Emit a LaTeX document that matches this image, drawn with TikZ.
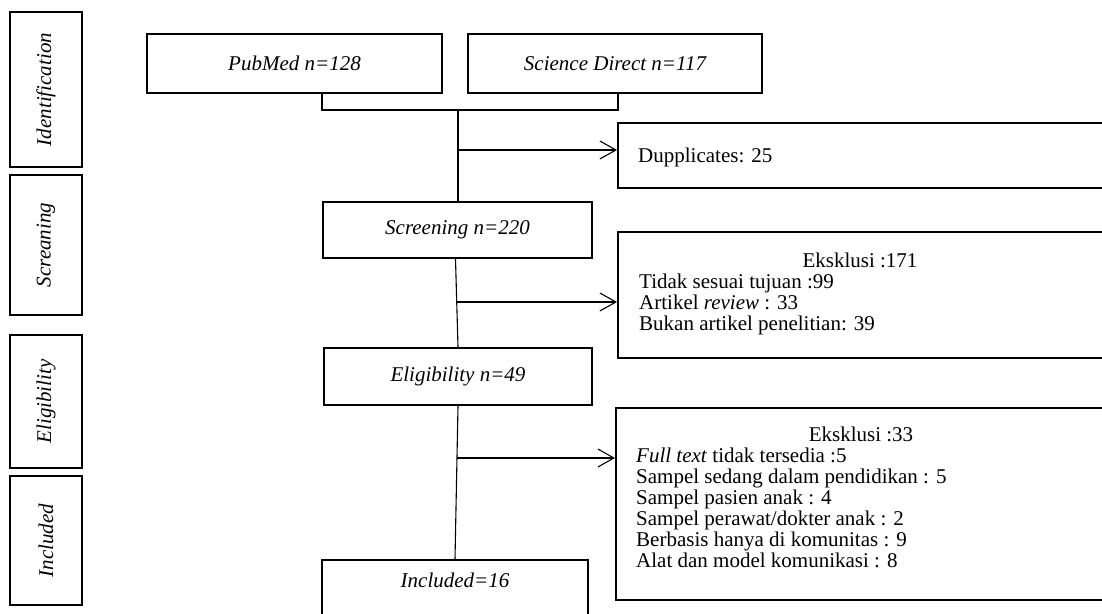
\documentclass[tikz,border=0pt]{standalone}
\usepackage{fontspec}
\setmainfont{Liberation Serif}
\usetikzlibrary{arrows.meta}
\begin{document}
\begin{tikzpicture}[x=1pt,y=-1pt,
  font=\fontsize{21}{22}\selectfont,
  box/.style={draw, line width=2pt, inner sep=0pt, align=center},
  stagebox/.style={box, minimum width=72pt},
  conn/.style={line width=1.1pt},
  arr/.style={conn, -{Straight Barb[length=16pt,width=18pt,line width=1.1pt]}},
  line/.style={anchor=base west, inner sep=0pt},
  title/.style={anchor=base, inner sep=0pt}]
\useasboundingbox (0,0) rectangle (1102,613);
\clip (0,0) rectangle (1102,613);
% stage boxes
\node[stagebox, minimum height=155pt] (sid) at (46,89.5) {\rotatebox{90}{\itshape Identification}};
\node[stagebox, minimum height=140pt] (sscr) at (46,245) {\rotatebox{90}{\itshape Screaning}};
\node[stagebox, minimum height=133pt] (selig) at (46,401.5) {\rotatebox{90}{\itshape Eligibility}};
\node[stagebox, minimum height=129pt] (sinc) at (46,540.5) {\rotatebox{90}{\itshape Included}};
% main boxes
\node[box, minimum width=295pt, minimum height=59pt] (pub) at (294.5,63.5) {\itshape PubMed n=128};
\node[box, minimum width=294pt, minimum height=59pt] (sd) at (615,63.5) {\itshape Science Direct n=117};
\node[box, minimum width=269pt, minimum height=56pt] (screen) at (457.5,230) {\itshape Screening n=220};
\node[box, minimum width=268pt, minimum height=57pt] (eligb) at (458,376.5) {\itshape Eligibility n=49};
\node[box, minimum width=266pt, minimum height=60pt] (incl) at (455,590) {};
\node[inner sep=0pt] (incltxt) at (455,580) {\itshape Included=16};
% right boxes
\node[box, minimum width=492pt, minimum height=65pt] (dup) at (864,155.5) {};
\node[anchor=west, inner sep=0pt] (duptxt) at (638,157) {Dupplicates: 25};
\node[box, minimum width=492pt, minimum height=126pt] (ex1) at (864,295) {};
\node[title] (ex1t) at (860,267) {Eksklusi :171};
\node[line] (ex1a) at (639,288) {Tidak sesuai tujuan :99};
\node[line] (ex1b) at (639,309) {Artikel \textit{review} : 33};
\node[line] (ex1c) at (639,330) {Bukan artikel penelitian: 39};
\node[box, minimum width=494pt, minimum height=192pt] (ex2) at (863,504) {};
\node[title] (ex2t) at (861,441) {Eksklusi :33};
\node[line] (ex2a) at (636,462) {\textit{Full text} tidak tersedia :5};
\node[line] (ex2b) at (636,483) {Sampel sedang dalam pendidikan : 5};
\node[line] (ex2c) at (636,504) {Sampel pasien anak : 4};
\node[line] (ex2d) at (636,525) {Sampel perawat/dokter anak : 2};
\node[line] (ex2e) at (636,546) {Berbasis hanya di komunitas : 9};
\node[line] (ex2f) at (636,567) {Alat dan model komunikasi : 8};
% connectors
\coordinate (j1) at (458,110);
\draw[conn] ([xshift=27.5pt]pub.south) |- (j1);
\draw[conn] ([xshift=3pt]sd.south) |- (j1);
\draw[conn] (j1) -- (j1 |- screen.north);
\coordinate (a1) at (458,150);
\draw[arr] (a1) -- (a1 -| dup.west);
\draw[conn] ([xshift=-2pt]screen.south) -- (eligb.north);
\coordinate (a2) at (456.5,302);
\draw[arr] (a2) -- (a2 -| ex1.west);
\draw[conn] (eligb.south) -- (incl.north);
\coordinate (a3) at (457,458);
\draw[arr] (a3) -- (a3 -| ex2.west);
\end{tikzpicture}
\end{document}
